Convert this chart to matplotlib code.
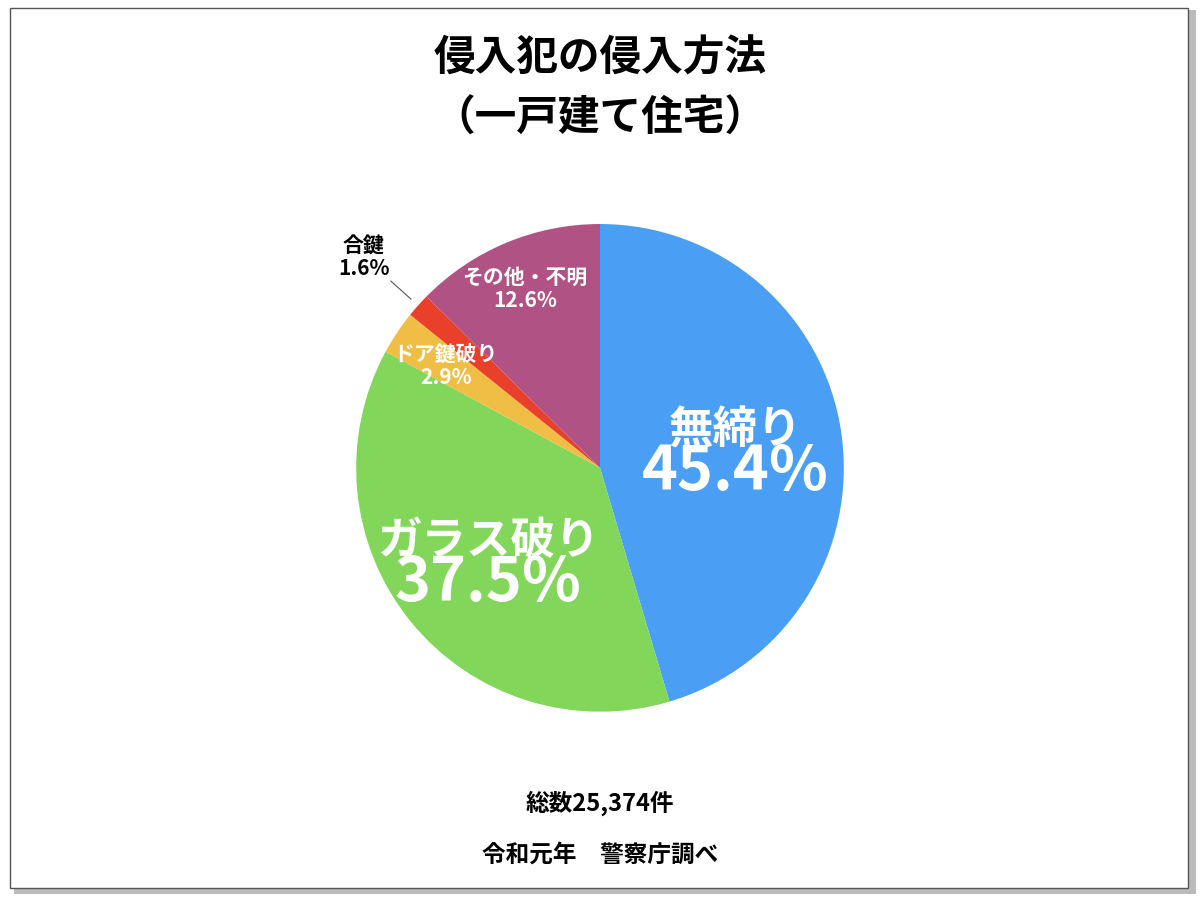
import numpy as np
import matplotlib.pyplot as plt
from matplotlib.patches import Rectangle

plt.rcParams['font.family'] = ['Noto Sans CJK JP', 'DejaVu Sans']

labels = ['無締り', 'ガラス破り', 'ドア鍵破り', '合鍵', 'その他・不明']
values = [45.4, 37.5, 2.9, 1.6, 12.6]
colors = ['#4A9FF5', '#82D65A', '#F0BE45', '#E8402A', '#B05384']
label_r = [0.56, 0.59, 0.76, 1.30, 0.80]
label_size = [32, 32, 15, 15, 15]
pct_size = [44, 44, 15, 15, 15]
label_color = ['white', 'white', 'white', 'black', 'white']

fig = plt.figure(figsize=(12, 8.98), dpi=100)
fig.patch.set_facecolor('white')

# frame with shadow
fig.patches.append(Rectangle((0.012, 0.004), 0.985, 0.985, transform=fig.transFigure,
                             facecolor='#bbbbbb', edgecolor='none', zorder=0))
fig.patches.append(Rectangle((0.008, 0.011), 0.982, 0.980, transform=fig.transFigure,
                             facecolor='white', edgecolor='#555555', lw=1, zorder=1))

ax = fig.add_axes([0.246, 0.1395, 0.508, 0.679])
ax.set_zorder(2)
wedges, _ = ax.pie(values, colors=colors, startangle=90, counterclock=False,
                   wedgeprops=dict(linewidth=0))
ax.set_aspect('equal')

for w, lab, v, r, ls, ps, c in zip(wedges, labels, values, label_r, label_size, pct_size, label_color):
    mid = np.deg2rad((w.theta1 + w.theta2) / 2)
    x, y = r * np.cos(mid), r * np.sin(mid)
    big = ps > 20
    ax.text(x, y + (0.07 if big else 0.045), lab, ha='center', va='center',
            fontsize=ls, fontweight='bold', color=c)
    ax.text(x, y - (0.1 if big else 0.05), f'{v}%', ha='center', va='center',
            fontsize=ps, fontweight='bold', color=c)
    if r > 1:
        ax.plot([1.04 * np.cos(mid), 1.15 * np.cos(mid)],
                [1.04 * np.sin(mid), 1.15 * np.sin(mid)], color='#555555', lw=0.8)

fig.text(0.5, 0.935, '侵入犯の侵入方法', ha='center', va='center', fontsize=30, fontweight='bold')
fig.text(0.5, 0.868, '（一戸建て住宅）', ha='center', va='center', fontsize=30, fontweight='bold')
fig.text(0.5, 0.106, '総数25,374件', ha='center', va='center', fontsize=17, fontweight='bold')
fig.text(0.5, 0.048, '令和元年　警察庁調べ', ha='center', va='center', fontsize=17, fontweight='bold')

fig.savefig('out.png', dpi=100)
